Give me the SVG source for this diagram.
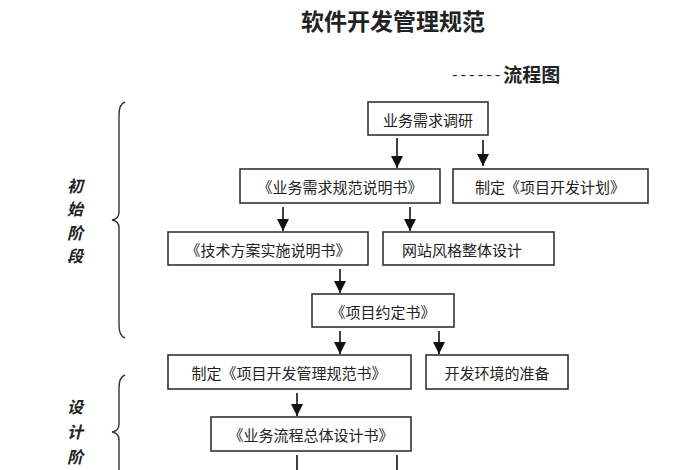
<svg xmlns="http://www.w3.org/2000/svg" width="700" height="470" viewBox="0 0 700 470">
<style>
.box rect{fill:#fff;stroke:#333;stroke-width:1.6}
.box text{font-family:"Noto Sans CJK SC","Noto Sans",sans-serif;font-size:15px;fill:#222;text-anchor:middle;dominant-baseline:central}
.conn line{stroke:#111;stroke-width:1.6}
.brace{fill:none;stroke:#333;stroke-width:1.4}
.stage{font-family:"Noto Sans CJK SC",sans-serif;font-size:16px;font-weight:bold;font-style:italic;fill:#222;text-anchor:middle;dominant-baseline:central}
</style>
<defs>
<marker id="ah" viewBox="0 0 12 12" refX="12" refY="6" markerWidth="12" markerHeight="12" markerUnits="userSpaceOnUse" orient="auto">
<path d="M0,0 L12,6 L0,12 z" fill="#111"/>
</marker>
</defs>
<rect width="700" height="470" fill="#fff"/>
<text x="393" y="20" font-family="Noto Sans CJK SC,sans-serif" font-size="23" font-weight="bold" fill="#222" text-anchor="middle" dominant-baseline="central">软件开发管理规范</text>
<text x="452" y="73" font-family="Noto Sans CJK SC,sans-serif" font-size="16" fill="#222" dominant-baseline="central" letter-spacing="3">------<tspan font-weight="bold" font-size="19" letter-spacing="0">流程图</tspan></text>

<path class="brace" d="M125,102 Q119,104 119,115 L119,212 Q119,219 112,220 Q119,221 119,228 L119,325 Q119,336 125,338"/>
<text class="stage" x="75" y="185">初</text>
<text class="stage" x="75" y="208">始</text>
<text class="stage" x="75" y="232">阶</text>
<text class="stage" x="75" y="255">段</text>
<path class="brace" d="M125,375 Q119,377 119,388 L119,424 Q119,431 112,432 Q119,433 119,440 L119,475"/>
<text class="stage" x="75" y="406">设</text>
<text class="stage" x="75" y="431">计</text>
<text class="stage" x="75" y="456">阶</text>

<g class="conn">
<line x1="397" y1="138" x2="397" y2="168" marker-end="url(#ah)"/>
<line x1="483" y1="140" x2="483" y2="166" marker-end="url(#ah)"/>
<line x1="283" y1="207" x2="283" y2="231" marker-end="url(#ah)"/>
<line x1="410" y1="207" x2="410" y2="231" marker-end="url(#ah)"/>
<line x1="340" y1="269" x2="340" y2="293" marker-end="url(#ah)"/>
<line x1="340" y1="331" x2="340" y2="354" marker-end="url(#ah)"/>
<line x1="439" y1="331" x2="439" y2="354" marker-end="url(#ah)"/>
<line x1="297" y1="393" x2="297" y2="416" marker-end="url(#ah)"/>
<line x1="297" y1="455" x2="297" y2="480"/>
<line x1="397" y1="455" x2="397" y2="480"/>
</g>

<g class="box" id="n1"><rect x="368" y="102" width="120" height="33"/><text x="428" y="119">业务需求调研</text></g>
<g class="box" id="n2"><rect x="240" y="169" width="200" height="34"/><text x="340" y="186">《业务需求规范说明书》</text></g>
<g class="box" id="n3"><rect x="453" y="169" width="195" height="34"/><text x="550" y="186">制定《项目开发计划》</text></g>
<g class="box" id="n4"><rect x="168" y="232" width="200" height="33"/><text x="268" y="249">《技术方案实施说明书》</text></g>
<g class="box" id="n5"><rect x="383" y="232" width="171" height="33"/><text x="462" y="249">网站风格整体设计</text></g>
<g class="box" id="n6"><rect x="312" y="294" width="142" height="33"/><text x="383" y="311">《项目约定书》</text></g>
<g class="box" id="n7"><rect x="168" y="355" width="243" height="34"/><text x="289" y="372">制定《项目开发管理规范书》</text></g>
<g class="box" id="n8"><rect x="426" y="355" width="142" height="34"/><text x="497" y="372">开发环境的准备</text></g>
<g class="box" id="n9"><rect x="211" y="417" width="200" height="34"/><text x="311" y="434">《业务流程总体设计书》</text></g>
</svg>
